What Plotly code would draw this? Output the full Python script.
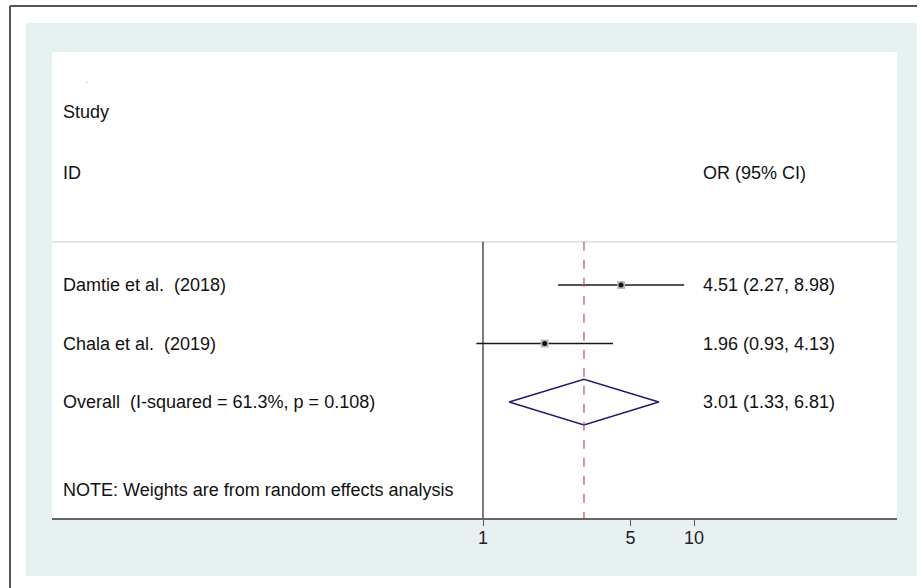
import plotly.graph_objects as go

# Study-level estimates (odds ratios with 95% CI)
studies = ["Damtie et al.  (2018)", "Chala et al.  (2019)"]
or_est = [4.51, 1.96]
ci_low = [2.27, 0.93]
ci_high = [8.98, 4.13]

# Pooled random-effects estimate
overall_label = "Overall  (I-squared = 61.3%, p = 0.108)"
overall_est = 3.01
overall_low = 1.33
overall_high = 6.81

est_labels = ["4.51 (2.27, 8.98)", "1.96 (0.93, 4.13)", "3.01 (1.33, 6.81)"]
note_text = "NOTE: Weights are from random effects analysis"
tick_vals = [1, 5, 10]
null_value = 1

# Row positions on the y axis (row units, reversed axis)
study_rows = [1, 2]
overall_row = 3
note_row = 4.5
header_study_row = -1.95
header_id_row = -0.92
rule_row = 0.26
diamond_half = 0.39
y_bottom, y_top = 4.98, -2.98

W, H = 920, 588
L, R, T, B = 52, 897, 52, 518


def px(x):
    return (x - L) / (R - L)


def py(y):
    return (B - y) / (B - T)


FONT = "Liberation Sans, Arial, sans-serif"
fs = 18

fig = go.Figure()

# confidence interval lines
for i in range(len(studies)):
    fig.add_trace(go.Scatter(
        x=[ci_low[i], ci_high[i]], y=[study_rows[i], study_rows[i]],
        mode="lines", line=dict(color="#1a1a1a", width=1.5),
        hoverinfo="skip", showlegend=False))

# weight boxes and point estimates
fig.add_trace(go.Scatter(
    x=or_est, y=study_rows, mode="markers",
    marker=dict(symbol="square", size=8, color="#b8b8b8", line=dict(width=0)),
    hoverinfo="skip", showlegend=False))
fig.add_trace(go.Scatter(
    x=or_est, y=study_rows, mode="markers",
    marker=dict(symbol="circle", size=5, color="#111111"),
    hoverinfo="skip", showlegend=False))

# pooled diamond
fig.add_trace(go.Scatter(
    x=[overall_low, overall_est, overall_high, overall_est, overall_low],
    y=[overall_row, overall_row - diamond_half, overall_row,
       overall_row + diamond_half, overall_row],
    mode="lines", line=dict(color="#1c1c6b", width=1.5),
    hoverinfo="skip", showlegend=False))

shapes = [
    # light blue panel and white plot region
    dict(type="rect", xref="paper", yref="paper", x0=px(26), x1=px(917),
         y0=py(576), y1=py(23), fillcolor="#e8f1f2", line=dict(width=0),
         layer="below"),
    dict(type="rect", xref="paper", yref="paper", x0=0, x1=1, y0=0, y1=1,
         fillcolor="white", line=dict(width=0), layer="below"),
    # outer frame (top and left edges)
    dict(type="line", xref="paper", yref="paper", x0=px(10), x1=px(917),
         y0=py(6), y1=py(6), line=dict(color="#555555", width=2)),
    dict(type="line", xref="paper", yref="paper", x0=px(10), x1=px(10),
         y0=py(6), y1=py(600), line=dict(color="#555555", width=2)),
    # header rule
    dict(type="line", xref="paper", yref="y", x0=0, x1=1,
         y0=rule_row, y1=rule_row, line=dict(color="#dddddd", width=1.5)),
    # null line at OR = 1
    dict(type="line", xref="x", yref="y", x0=null_value, x1=null_value,
         y0=rule_row, y1=y_bottom, line=dict(color="#222222", width=1.2)),
    # pooled estimate reference line
    dict(type="line", xref="x", yref="y", x0=overall_est, x1=overall_est,
         y0=rule_row, y1=y_bottom,
         line=dict(color="#b5525c", width=1.2, dash="dash")),
]

annotations = []


def add_text(x, y, text, color="#111111", size=fs):
    annotations.append(dict(x=x, y=y, xref="paper", yref="y", text=text,
                            showarrow=False, xanchor="left", yanchor="middle",
                            font=dict(family=FONT, size=size, color=color)))


add_text(px(84), -2.5, ".", color="#999999", size=8)
add_text(px(61), header_study_row, "Study")
add_text(px(61), header_id_row, "ID")
add_text(px(701), header_id_row, "OR (95% CI)")
for i, s in enumerate(studies):
    add_text(px(61), study_rows[i], s)
    add_text(px(701), study_rows[i], est_labels[i])
add_text(px(61), overall_row, overall_label)
add_text(px(701), overall_row, est_labels[2])
add_text(px(61), note_row, note_text)

fig.update_layout(
    width=W, height=H,
    margin=dict(l=L, r=W - R, t=T, b=H - B, pad=0),
    paper_bgcolor="white", plot_bgcolor="white",
    shapes=shapes, annotations=annotations,
    xaxis=dict(type="log", range=[(L - 483) / 211, (R - 483) / 211],
               tickvals=tick_vals, ticktext=[str(v) for v in tick_vals],
               showgrid=False, zeroline=False, showline=True,
               linecolor="#666666", linewidth=1.5, ticks="outside",
               ticklen=6, tickcolor="#555555", tickwidth=1.2,
               ticklabelstandoff=-3,
               tickfont=dict(family=FONT, size=18, color="#222222")),
    yaxis=dict(range=[y_bottom, y_top], showgrid=False, zeroline=False,
               showticklabels=False, showline=False, ticks=""),
)

fig.write_html("out.html")
